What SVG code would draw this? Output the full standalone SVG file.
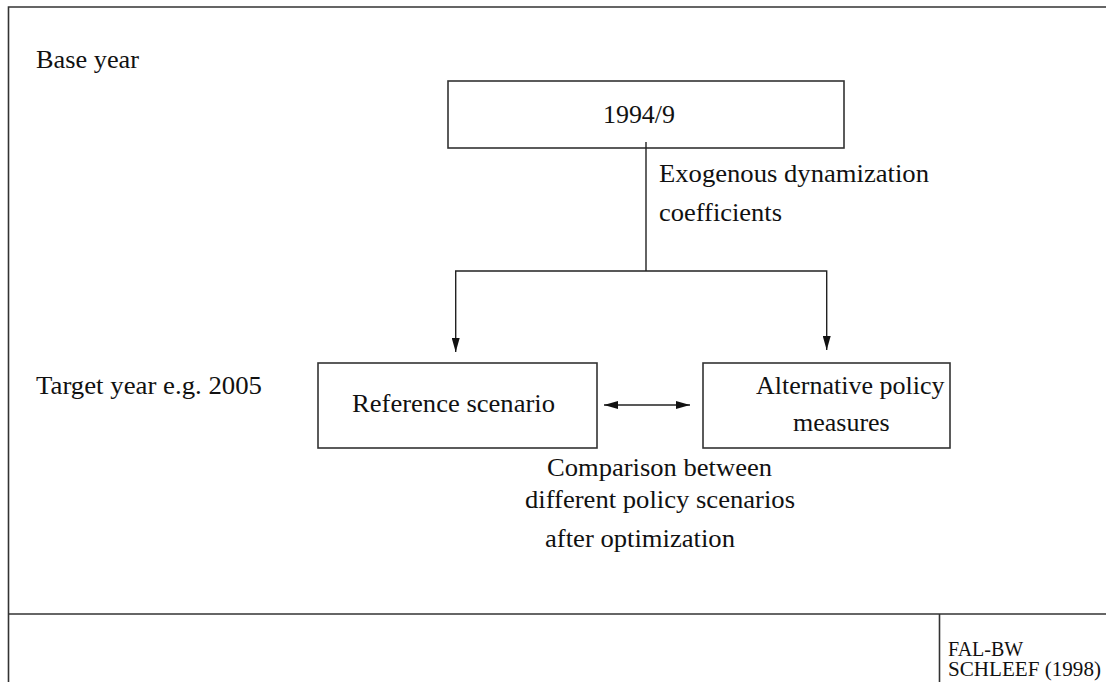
<svg xmlns="http://www.w3.org/2000/svg" width="1106" height="682" viewBox="0 0 1106 682">
  <style>
    .frame { fill: none; stroke: #333; stroke-width: 1.6; }
    .box { fill: none; stroke: #333; stroke-width: 1.6; }
    .link { fill: none; stroke: #222; stroke-width: 1.4; }
    .t { font-family: "Liberation Serif", "Times New Roman", serif; font-size: 26px; fill: #111; }
    .small { font-family: "Liberation Serif", "Times New Roman", serif; font-size: 20px; fill: #111; }
  </style>
  <defs>
    <marker id="head" viewBox="0 0 14 8" refX="14" refY="4" markerWidth="14" markerHeight="8" markerUnits="userSpaceOnUse" orient="auto-start-reverse">
      <path d="M0,0 L14,4 L0,8 Z" fill="#111"/>
    </marker>
  </defs>

  <rect width="1106" height="682" fill="#fff"/>

  <!-- page frame and footer -->
  <g id="frame">
    <path class="frame" d="M8.5,690 V7 H1115"/>
    <line class="frame" x1="8.5" y1="614" x2="1106" y2="614"/>
    <line class="frame" x1="939.5" y1="614" x2="939.5" y2="682"/>
    <text class="small" x="948" y="656">FAL-BW</text>
    <text class="small" x="948" y="676" textLength="153" lengthAdjust="spacingAndGlyphs">SCHLEEF (1998)</text>
  </g>

  <!-- row labels -->
  <g id="labels">
    <text class="t" x="36" y="68" textLength="103" lengthAdjust="spacingAndGlyphs">Base year</text>
    <text class="t" x="36" y="394" textLength="226" lengthAdjust="spacingAndGlyphs">Target year e.g. 2005</text>
  </g>

  <g id="base">
    <rect class="box" x="448" y="81" width="396" height="67"/>
    <text class="t" x="603" y="123" textLength="72" lengthAdjust="spacingAndGlyphs">1994/9</text>
  </g>

  <g id="reference">
    <rect class="box" x="318" y="363" width="279" height="85"/>
    <text class="t" x="352" y="412" textLength="203" lengthAdjust="spacingAndGlyphs">Reference scenario</text>
  </g>

  <g id="alternative">
    <rect class="box" x="703" y="363" width="247" height="85"/>
    <text class="t" x="756" y="394">Alternative policy</text>
    <text class="t" x="793" y="431">measures</text>
  </g>

  <g id="connectors">
    <path class="link" d="M646,142 V271"/>
    <path class="link" d="M646,271 H455.7 V352" marker-end="url(#head)"/>
    <path class="link" d="M646,271 H826.7 V350" marker-end="url(#head)"/>
    <line class="link" x1="604" y1="405" x2="690" y2="405" marker-start="url(#head)" marker-end="url(#head)"/>
    <text class="t" x="659" y="182" textLength="270" lengthAdjust="spacingAndGlyphs">Exogenous dynamization</text>
    <text class="t" x="659" y="221" textLength="123" lengthAdjust="spacingAndGlyphs">coefficients</text>
    <text class="t" x="547" y="476" textLength="225" lengthAdjust="spacingAndGlyphs">Comparison between</text>
    <text class="t" x="525" y="508" textLength="270" lengthAdjust="spacingAndGlyphs">different policy scenarios</text>
    <text class="t" x="545" y="547" textLength="190" lengthAdjust="spacingAndGlyphs">after optimization</text>
  </g>
</svg>
